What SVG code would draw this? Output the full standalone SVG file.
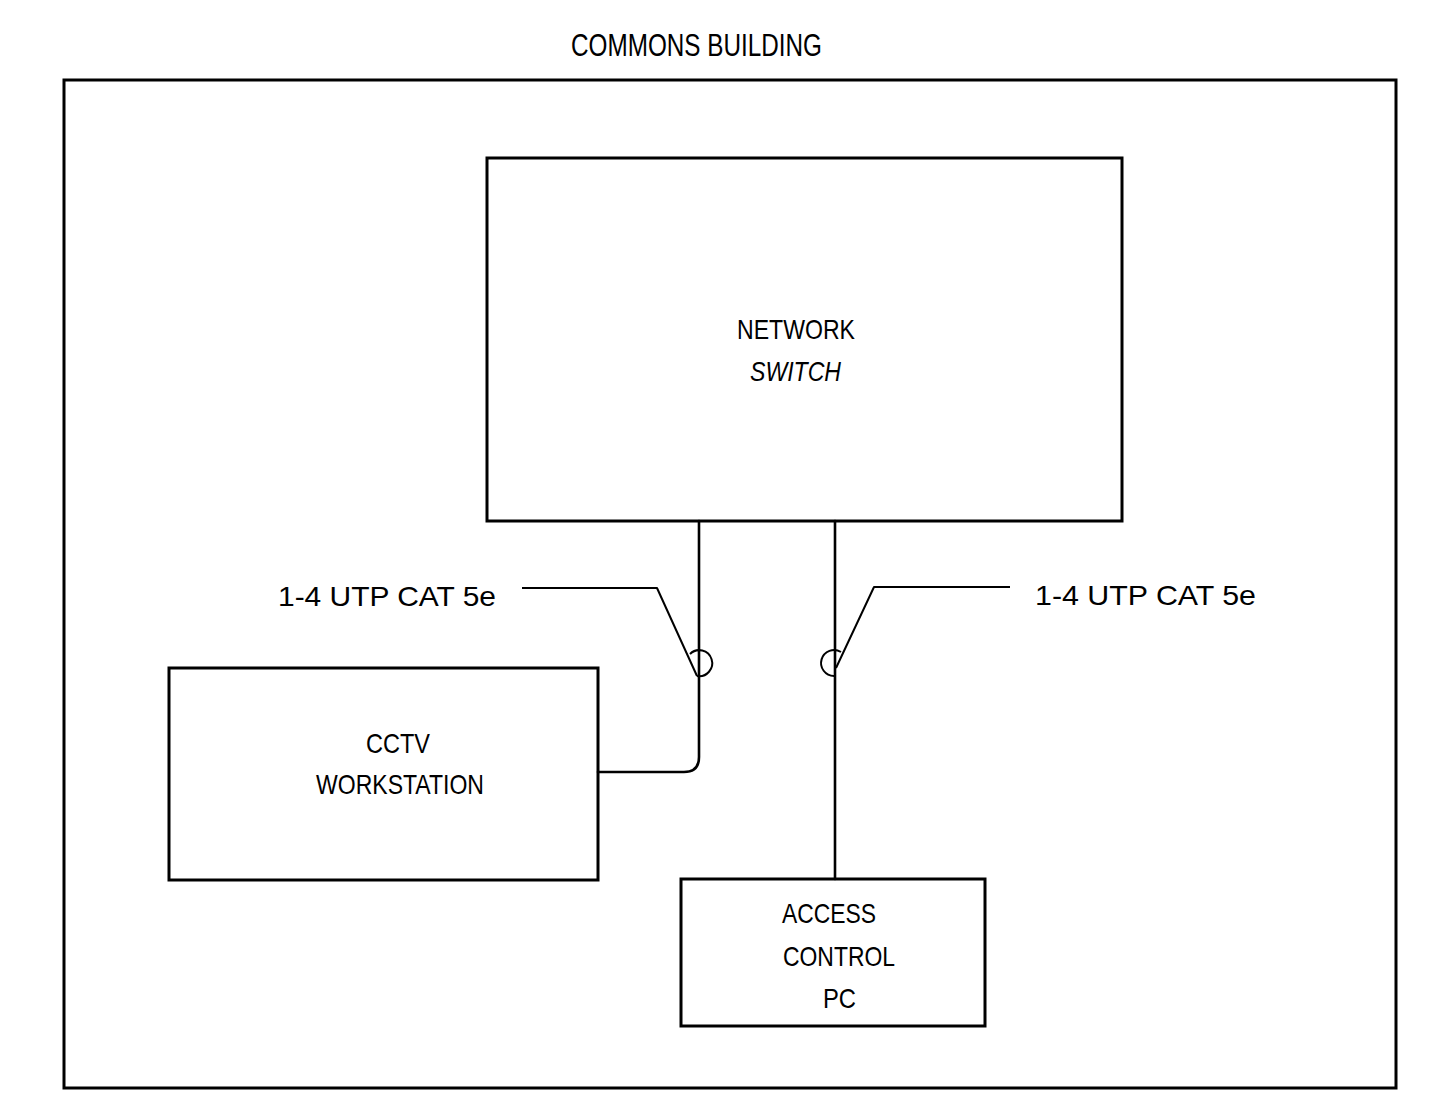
<svg xmlns="http://www.w3.org/2000/svg" width="1432" height="1096" viewBox="0 0 1432 1096">
<style>
.box{fill:none;stroke:#000;stroke-width:3}
.ln{fill:none;stroke:#000;stroke-width:2.6;stroke-linejoin:round;stroke-linecap:round}
.ld{fill:none;stroke:#000;stroke-width:2;stroke-linejoin:round}
.t{font-family:"Liberation Sans",Arial,sans-serif;font-size:28px;fill:#000}
.ti{font-family:"Liberation Sans",Arial,sans-serif;font-size:32px;fill:#000}
</style>
<rect width="1432" height="1096" fill="#fff"/>
<text class="ti" x="571" y="56" textLength="251" lengthAdjust="spacingAndGlyphs">COMMONS BUILDING</text>
<g id="building">
<rect class="box" x="64" y="80" width="1332" height="1008"/>
</g>
<g id="network-switch">
<rect class="box" x="487" y="158" width="635" height="363"/>
<text class="t" x="737" y="339" textLength="118" lengthAdjust="spacingAndGlyphs">NETWORK</text>
<text class="t" x="750" y="381" font-style="italic" textLength="91" lengthAdjust="spacingAndGlyphs">SWITCH</text>
</g>
<g id="cctv-workstation">
<rect class="box" x="169" y="668" width="429" height="212"/>
<text class="t" x="366" y="753" textLength="64" lengthAdjust="spacingAndGlyphs">CCTV</text>
<text class="t" x="316" y="794" textLength="168" lengthAdjust="spacingAndGlyphs">WORKSTATION</text>
</g>
<g id="access-control-pc">
<rect class="box" x="681" y="879" width="304" height="147"/>
<text class="t" x="782" y="923" textLength="94" lengthAdjust="spacingAndGlyphs">ACCESS</text>
<text class="t" x="783" y="966" textLength="112" lengthAdjust="spacingAndGlyphs">CONTROL</text>
<text class="t" x="823" y="1008" textLength="33" lengthAdjust="spacingAndGlyphs">PC</text>
</g>
<g id="connectors">
<path class="ln" d="M699 521 V757 Q699 772 684 772 H598"/>
<path class="ln" d="M835 521 V879"/>
<path class="ld" d="M522 588 H657 L697 676"/>
<path class="ld" d="M690 654 A13 13 0 1 1 697 676"/>
<path class="ld" d="M1010 587 H874 L836 668"/>
<path class="ld" d="M841 652 A13 13 0 1 0 834 676"/>
</g>
<g id="labels">
<text class="t" x="278" y="606" textLength="218" lengthAdjust="spacingAndGlyphs">1-4 UTP CAT 5e</text>
<text class="t" x="1035" y="605" textLength="221" lengthAdjust="spacingAndGlyphs">1-4 UTP CAT 5e</text>
</g>
</svg>
